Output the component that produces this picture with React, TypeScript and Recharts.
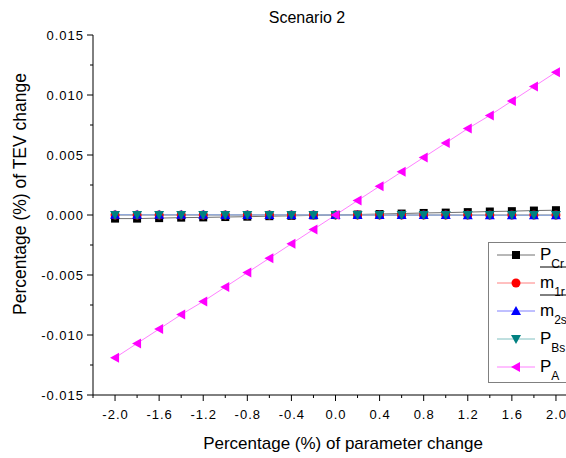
import { Line, LineChart, XAxis, YAxis } from "recharts";

const FONT = "'Liberation Sans', Arial, sans-serif";

const PARAM_CHANGE = [
  -2.0, -1.8, -1.6, -1.4, -1.2, -1.0, -0.8, -0.6, -0.4, -0.2, 0.0, 0.2, 0.4,
  0.6, 0.8, 1.0, 1.2, 1.4, 1.6, 1.8, 2.0,
];
const P_CR = [
  -0.0003, -0.0003, -0.00026, -0.00022, -0.0002, -0.00017, -0.00014, -0.0001,
  -0.00007, -0.00003, 0, 0.00004, 0.00008, 0.00012, 0.00017, 0.0002, 0.00024,
  0.00029, 0.00032, 0.00037, 0.0004,
];
const M_1R = [
  0, 0, 0, 0, 0, 0, 0, 0, 0, 0, 0, 0, 0, 0, 0, 0, 0, 0, 0, 0, 0,
];
const M_2S = [
  0.00002, 0.00002, 0.00002, 0.00002, 0.00002, 0.00001, 0.00001, 0.00001,
  0.00001, 0, 0, 0, -0.00001, -0.00001, -0.00001, -0.00001, -0.00002,
  -0.00002, -0.00002, -0.00002, -0.00002,
];
const P_BS = [
  0, 0, 0, 0, 0, 0, 0, 0, 0, 0, 0, 0, 0, 0, 0, 0, 0, 0, 0, 0, 0,
];
const P_A = [
  -0.0119, -0.0107, -0.0095, -0.0083, -0.0072, -0.006, -0.0048, -0.0036,
  -0.0024, -0.0012, 0, 0.0012, 0.0024, 0.0036, 0.0048, 0.006, 0.0072, 0.0083,
  0.0095, 0.0107, 0.0119,
];

const X_TICKS = [
  -2.2, -2.0, -1.8, -1.6, -1.4, -1.2, -1.0, -0.8, -0.6, -0.4, -0.2, 0.0, 0.2,
  0.4, 0.6, 0.8, 1.0, 1.2, 1.4, 1.6, 1.8, 2.0, 2.2,
];
const X_LABELS = [-2.0, -1.6, -1.2, -0.8, -0.4, 0.0, 0.4, 0.8, 1.2, 1.6, 2.0];
const Y_TICKS = [
  -0.015, -0.0125, -0.01, -0.0075, -0.005, -0.0025, 0, 0.0025, 0.005, 0.0075,
  0.01, 0.0125, 0.015,
];
const Y_LABELS = [-0.015, -0.01, -0.005, 0, 0.005, 0.01, 0.015];

const data = PARAM_CHANGE.map((x, i) => ({
  x,
  pcr: P_CR[i],
  m1r: M_1R[i],
  m2s: M_2S[i],
  pbs: P_BS[i],
  pa: P_A[i],
}));

const isIn = (list: number[], v: number) =>
  list.some((m) => Math.abs(m - v) < 1e-7);

function XTick({ x, y, payload }: any) {
  const v = payload.value as number;
  const major = isIn(X_LABELS, v);
  return (
    <g>
      <line x1={x} x2={x} y1={y} y2={y + (major ? 6 : 3)} stroke="#000" />
      {major && (
        <text
          x={x + 0.5}
          y={y + 24}
          textAnchor="middle"
          fontFamily={FONT}
          fontSize={13}
          letterSpacing={1}
          fill="#000"
        >
          {Math.abs(v) < 1e-7 ? "0.0" : v.toFixed(1)}
        </text>
      )}
    </g>
  );
}

function YTick({ x, y, payload }: any) {
  const v = payload.value as number;
  const major = isIn(Y_LABELS, v);
  return (
    <g>
      <line x1={x - (major ? 6 : 3)} x2={x} y1={y} y2={y} stroke="#000" />
      {major && (
        <text
          x={x - 9}
          y={y + 4.5}
          textAnchor="end"
          fontFamily={FONT}
          fontSize={13}
          letterSpacing={1}
          fill="#000"
        >
          {Math.abs(v) < 1e-9 ? "0.000" : v.toFixed(3)}
        </text>
      )}
    </g>
  );
}

type Shape = "square" | "circle" | "up" | "down" | "left";

function Marker({ cx, cy, shape, color }: { cx: number; cy: number; shape: Shape; color: string }) {
  if (shape === "square")
    return <rect x={cx - 4} y={cy - 4} width={8} height={8} fill={color} />;
  if (shape === "circle") return <circle cx={cx} cy={cy} r={4.5} fill={color} />;
  const s = 5;
  const pts =
    shape === "up"
      ? `${cx},${cy - s} ${cx + s},${cy + s - 1} ${cx - s},${cy + s - 1}`
      : shape === "down"
      ? `${cx},${cy + s} ${cx + s},${cy - s + 1} ${cx - s},${cy - s + 1}`
      : `${cx - s},${cy} ${cx + s - 1},${cy - s} ${cx + s - 1},${cy + s}`;
  return <polygon points={pts} fill={color} />;
}

const SERIES: { key: string; line: string; fill: string; shape: Shape; main: string; sub: string; bar?: boolean }[] = [
  { key: "pcr", line: "#707070", fill: "#000000", shape: "square", main: "P", sub: "Cr" },
  { key: "m1r", line: "#ff8080", fill: "#ff0000", shape: "circle", main: "m", sub: "1r", bar: true },
  { key: "m2s", line: "#8080ff", fill: "#0000ff", shape: "up", main: "m", sub: "2s", bar: true },
  { key: "pbs", line: "#80c0c0", fill: "#008080", shape: "down", main: "P", sub: "Bs" },
  { key: "pa", line: "#ff80ff", fill: "#ff00ff", shape: "left", main: "P", sub: "A" },
];

export default function App() {
  return (
    <div
      style={{
        position: "absolute",
        left: 0,
        top: 0,
        width: 566,
        height: 458,
        overflow: "hidden",
        background: "#fff",
      }}
    >
      <LineChart
        width={600}
        height={458}
        data={data}
        margin={{ top: 35, right: 22, left: 0, bottom: 0 }}
      >
        <XAxis
          dataKey="x"
          type="number"
          domain={[-2.2, 2.2]}
          ticks={X_TICKS}
          interval={0}
          tickSize={0}
          tickMargin={0}
          height={63}
          stroke="#000"
          tick={<XTick />}
        />
        <YAxis
          type="number"
          domain={[-0.015, 0.015]}
          ticks={Y_TICKS}
          interval={0}
          tickSize={0}
          tickMargin={0}
          width={93}
          stroke="#000"
          tick={<YTick />}
        />
        {SERIES.map((s) => (
          <Line
            key={s.key}
            dataKey={s.key}
            stroke={s.line}
            strokeWidth={1}
            isAnimationActive={false}
            dot={(p: any) => (
              <Marker key={`${s.key}-${p.index}`} cx={p.cx} cy={p.cy} shape={s.shape} color={s.fill} />
            )}
            activeDot={false}
          />
        ))}
      </LineChart>
      <svg
        width={566}
        height={458}
        style={{ position: "absolute", left: 0, top: 0, pointerEvents: "none" }}
        fontFamily={FONT}
      >
        <text x={307} y={23} textAnchor="middle" fontSize={16} fill="#000">
          Scenario 2
        </text>
        <text
          transform="translate(26,194) rotate(-90)"
          textAnchor="middle"
          fontSize={17.5}
          fill="#000"
        >
          Percentage (%) of TEV change
        </text>
        <text x={343} y={449} textAnchor="middle" fontSize={17} fill="#000">
          Percentage (%) of parameter change
        </text>
        <rect x={488.5} y={242.5} width={100} height={140} fill="#fff" stroke="#808080" />
        {SERIES.map((s, i) => {
          const cy = 255 + i * 28;
          return (
            <g key={s.key}>
              <line x1={497} x2={535} y1={cy} y2={cy} stroke={s.line} />
              <Marker cx={516} cy={cy} shape={s.shape} color={s.fill} />
              {s.bar && <line x1={540} x2={580} y1={cy - 16} y2={cy - 16} stroke="#000" />}
              <text x={540} y={cy + 5} fontSize={17} fill="#000">
                {s.main}
                <tspan fontSize={12} dy={8}>
                  {s.sub}
                </tspan>
              </text>
            </g>
          );
        })}
      </svg>
    </div>
  );
}
